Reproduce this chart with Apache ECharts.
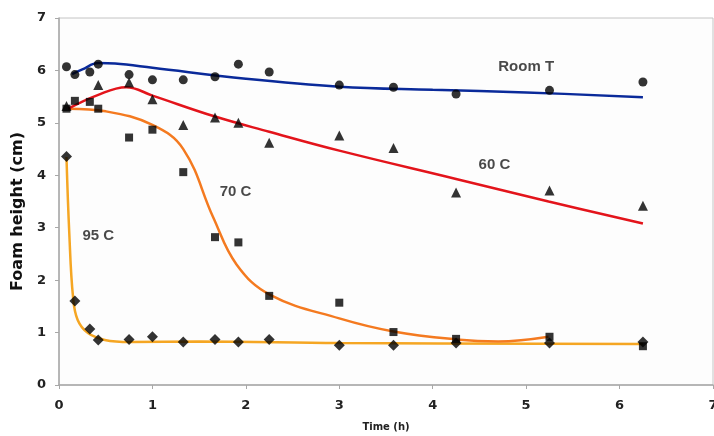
<!DOCTYPE html>
<html>
<head>
<meta charset="utf-8">
<script src="https://cdn.jsdelivr.net/npm/echarts@6/dist/echarts.min.js"></script>
<style>
  html, body { margin: 0; padding: 0; background: #fff; }
  #chart { width: 714px; height: 436px; }
</style>
</head>
<body>
<div id="chart"></div>
<script>
// measured points (time h, foam height cm)
const roomT = [[0.08, 6.07], [0.17, 5.92], [0.33, 5.97], [0.42, 6.12], [0.75, 5.92], [1.0, 5.82], [1.33, 5.82], [1.67, 5.88], [1.92, 6.12], [2.25, 5.97], [3.0, 5.72], [3.58, 5.68], [4.25, 5.55], [5.25, 5.62], [6.25, 5.78]];
const c60 = [[0.08, 5.32], [0.42, 5.72], [0.75, 5.77], [1.0, 5.45], [1.33, 4.96], [1.67, 5.1], [1.92, 5.0], [2.25, 4.62], [3.0, 4.76], [3.58, 4.52], [4.25, 3.67], [5.25, 3.71], [6.25, 3.42]];
const c70 = [[0.08, 5.27], [0.17, 5.42], [0.33, 5.4], [0.42, 5.27], [0.75, 4.72], [1.0, 4.87], [1.33, 4.06], [1.67, 2.82], [1.92, 2.72], [2.25, 1.7], [3.0, 1.57], [3.58, 1.01], [4.25, 0.88], [5.25, 0.92], [6.25, 0.74]];
const c95 = [[0.08, 4.36], [0.17, 1.6], [0.33, 1.07], [0.42, 0.86], [0.75, 0.87], [1.0, 0.92], [1.33, 0.82], [1.67, 0.87], [1.92, 0.82], [2.25, 0.87], [3.0, 0.76], [3.58, 0.76], [4.25, 0.8], [5.25, 0.8], [6.25, 0.82]];

// fitted trend curves
const fitRoomT = [[0.14, 5.93], [0.25, 6.02], [0.42, 6.14], [0.6, 6.13], [1.0, 6.05], [2.0, 5.84], [3.0, 5.69], [4.0, 5.63], [5.0, 5.58], [6.25, 5.49]];
const fit60 = [[0.1, 5.27], [0.4, 5.52], [0.72, 5.68], [1.0, 5.52], [1.67, 5.12], [2.25, 4.83], [3.0, 4.47], [4.25, 3.93], [5.24, 3.5], [6.25, 3.08]];
const fit70 = [[0.1, 5.27], [0.5, 5.22], [1.0, 4.96], [1.33, 4.5], [1.65, 3.2], [1.9, 2.3], [2.26, 1.72], [3.0, 1.27], [3.58, 1.02], [4.25, 0.87], [4.7, 0.83], [5.24, 0.92]];
const fit95 = [[0.08, 4.35], [0.11, 2.9], [0.15, 1.68], [0.2, 1.24], [0.31, 0.99], [0.49, 0.86], [0.76, 0.82], [1.5, 0.83], [3.0, 0.8], [6.25, 0.78]];

// curve labels [x, y, text]
const curveLabels = [[5.0, 6.07, 'Room T'], [4.66, 4.2, '60 C'], [1.89, 3.68, '70 C'], [0.42, 2.84, '95 C']];

const xTicks = { min: 0, max: 7, interval: 1 };
const yTicks = { min: 0, max: 7, interval: 1 };

const chart = echarts.init(document.getElementById('chart'));

function fitLine(data, color) {
	return {
		type: 'line',
		data: data,
		smooth: 0.4,
		showSymbol: false,
		symbol: 'none',
		lineStyle: { color: color, width: 2.5 },
		z: 2,
		silent: true
	};
}

function points(data, symbol, size) {
	return {
		type: 'scatter',
		data: data,
		symbol: symbol,
		symbolSize: size,
		itemStyle: { color: '#000' },
		z: 3,
		silent: true
	};
}

const axisLabelStyle = { color: '#222', fontFamily: 'DejaVu Sans', fontWeight: 'bold', fontSize: 13 };

chart.setOption({
	animation: false,
	backgroundColor: '#fff',
	grid: {
		left: 59, right: 1, top: 18, bottom: 51,
		outerBoundsMode: 'none',
		containLabel: false,
		show: true,
		borderColor: '#c4c4c4',
		borderWidth: 1,
		backgroundColor: '#fdfdfd'
	},
	xAxis: {
		type: 'value',
		min: xTicks.min, max: xTicks.max, interval: xTicks.interval,
		name: 'Time (h)',
		nameLocation: 'middle',
		nameGap: 37,
		nameTextStyle: { color: '#222', fontFamily: 'DejaVu Sans', fontWeight: 'bold', fontSize: 10 },
		axisLine: { lineStyle: { color: '#a8a8a8', width: 1.5 } },
		axisTick: { show: true, inside: false, length: 4, lineStyle: { color: '#a8a8a8' } },
		axisLabel: Object.assign({ margin: 14 }, axisLabelStyle),
		splitLine: { show: false }
	},
	yAxis: {
		type: 'value',
		min: yTicks.min, max: yTicks.max, interval: yTicks.interval,
		name: 'Foam height (cm)',
		nameLocation: 'middle',
		nameGap: 29,
		nameTextStyle: { color: '#111', fontFamily: 'DejaVu Sans', fontWeight: 'bold', fontSize: 16, padding: [0, 20, 0, 0] },
		axisLine: { show: true, lineStyle: { color: '#a8a8a8', width: 1.5 } },
		axisTick: { show: true, inside: false, length: 4, lineStyle: { color: '#a8a8a8' } },
		axisLabel: Object.assign({ margin: 13 }, axisLabelStyle),
		splitLine: { show: false }
	},
	series: [
		fitLine(fit95, '#f5a623'),
		fitLine(fit70, '#f47a20'),
		fitLine(fit60, '#e3141b'),
		fitLine(fitRoomT, '#0a2a9a'),
		points(roomT, 'circle', 9),
		points(c60, 'triangle', 10),
		points(c70, 'rect', 8),
		points(c95, 'diamond', 11),
		{
			type: 'scatter',
			data: curveLabels.map(d => ({ value: [d[0], d[1]], name: d[2] })),
			symbolSize: 0,
			silent: true,
			z: 4,
			label: {
				show: true,
				position: 'inside',
				formatter: p => p.name,
				color: '#1a1a1a',
				fontFamily: 'Liberation Sans',
				fontWeight: 'bold',
				fontSize: 15
			}
		}
	]
});
</script>
</body>
</html>
